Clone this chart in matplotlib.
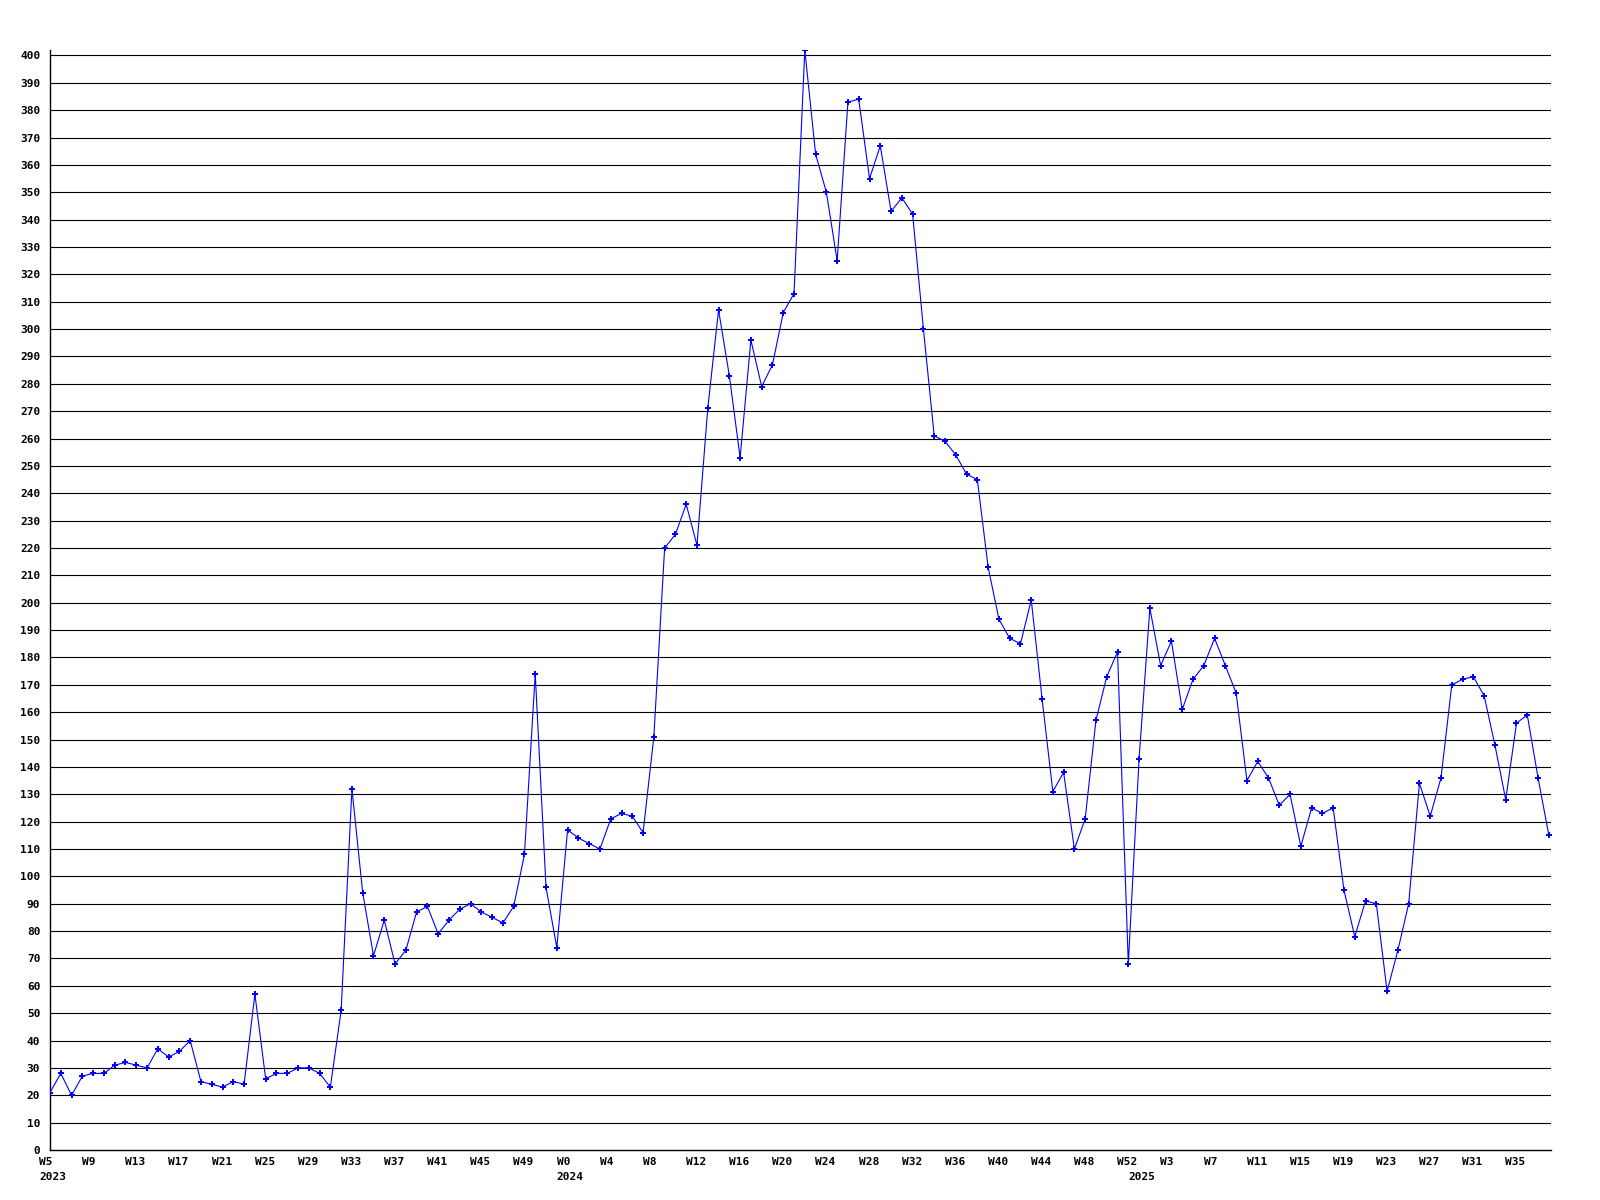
import numpy as np
import matplotlib
matplotlib.use("Agg")
import matplotlib.pyplot as plt
from matplotlib.transforms import ScaledTranslation, blended_transform_factory

# ---- data ----
years = [2023, 2024, 2025]
weeks_2023 = list(range(5, 53))
weeks_2024 = list(range(0, 53))
weeks_2025 = list(range(0, 39))

values_2023 = [21, 28, 20, 27, 28, 28, 31, 32, 31, 30, 37, 34, 36, 40, 25, 24, 23, 25, 24, 57,
               26, 28, 28, 30, 30, 28, 23, 51, 132, 94, 71, 84, 68, 73, 87, 89, 79, 84, 88, 90,
               87, 85, 83, 89, 108, 174, 96, 74]
values_2024 = [117, 114, 112, 110, 121, 123, 122, 116, 151, 220, 225, 236, 221, 271, 307, 283, 253,
               296, 279, 287, 306, 313, 402, 364, 350, 325, 383, 384, 355, 367, 343, 348, 342, 300,
               261, 259, 254, 247, 245, 213, 194, 187, 185, 201, 165, 131, 138, 110, 121, 157, 173,
               182, 68]
values_2025 = [143, 198, 177, 186, 161, 172, 177, 187, 177, 167, 135, 142, 136, 126, 130, 111, 125,
               123, 125, 95, 78, 91, 90, 58, 73, 90, 134, 122, 136, 170, 172, 173, 166, 148, 128,
               156, 159, 136, 115]

y_ticks = list(range(0, 401, 10))

# ---- build series ----
week_labels = ([f"W{w}" for w in weeks_2023] + [f"W{w}" for w in weeks_2024]
               + [f"W{w}" for w in weeks_2025])
values = values_2023 + values_2024 + values_2025
year_starts = [0, len(weeks_2023), len(weeks_2023) + len(weeks_2024)]
x = np.arange(len(values))

fig = plt.figure(figsize=(16, 12), dpi=100)
ax = fig.add_axes([50 / 1600, 50 / 1200, 1501 / 1600, 1100 / 1200])

for v in y_ticks[1:]:
    ax.axhline(v, color="black", linewidth=0.8, zorder=1)

ax.plot(x, values, color="#0000ff", linewidth=0.8, marker="P", markersize=4.2,
        markeredgewidth=0, zorder=3)

ax.set_xlim(0, 139.2)
ax.set_ylim(0, 402)

for s in ["top", "right"]:
    ax.spines[s].set_visible(False)
for s in ["left", "bottom"]:
    ax.spines[s].set_color("black")
    ax.spines[s].set_linewidth(1.0)

font = dict(family="DejaVu Sans Mono", weight="bold", size=8)

ax.set_yticks(y_ticks)
ax.set_yticklabels([str(v) for v in y_ticks], **font)
ax.tick_params(axis="y", length=0, pad=7)

tick_idx = x[::4]
ax.set_xticks(tick_idx)
ax.set_xticklabels([week_labels[i] for i in tick_idx], **font)
ax.tick_params(axis="x", length=0, pad=5)
shift = ScaledTranslation(-11 / 100, 0, fig.dpi_scale_trans)
for lab in ax.get_xticklabels():
    lab.set_horizontalalignment("left")
    lab.set_transform(lab.get_transform() + shift)

trans = blended_transform_factory(ax.transData, ax.transAxes) + shift
for yr, i in zip(years, year_starts):
    ax.text(i, -27 / 1100, str(yr), transform=trans, ha="left", va="center", **font)

fig.savefig("out.png", dpi=100, facecolor="white")
